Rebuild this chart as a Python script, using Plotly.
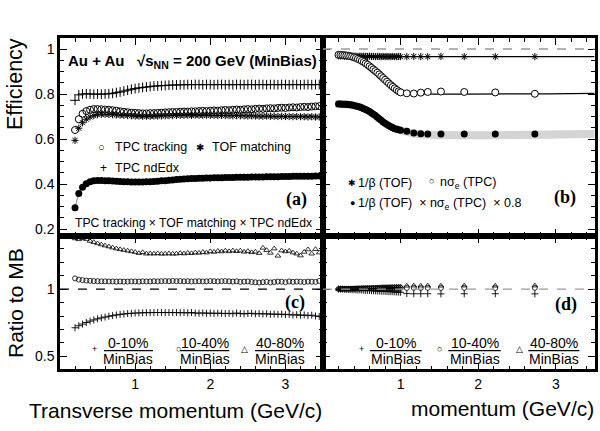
import plotly.graph_objects as go

# ---------------- data ----------------
pt = [0.20, 0.25, 0.30, 0.35, 0.40, 0.45, 0.50, 0.55, 0.60, 0.65,
      0.70, 0.75, 0.80, 0.85, 0.90, 0.95, 1.00, 1.05, 1.10, 1.15,
      1.20, 1.25, 1.30, 1.35, 1.40, 1.45, 1.50, 1.55, 1.60, 1.65,
      1.70, 1.75, 1.80, 1.85, 1.90, 1.95, 2.00, 2.05, 2.10, 2.15,
      2.20, 2.25, 2.30, 2.35, 2.40, 2.45, 2.50, 2.55, 2.60, 2.65,
      2.70, 2.75, 2.80, 2.85, 2.90, 2.95, 3.00, 3.05, 3.10, 3.15,
      3.20, 3.25, 3.30, 3.35, 3.40, 3.45]

eff_ndedx = [0.772, 0.796, 0.800, 0.801, 0.800, 0.799, 0.800, 0.799, 0.800, 0.801,
             0.803, 0.806, 0.809, 0.813, 0.817, 0.821, 0.824, 0.827, 0.829, 0.831,
             0.833, 0.835, 0.836, 0.837, 0.838, 0.839, 0.840, 0.840, 0.841, 0.841,
             0.842, 0.841, 0.842, 0.842, 0.841, 0.842, 0.842, 0.841, 0.842, 0.842,
             0.841, 0.842, 0.841, 0.842, 0.842, 0.841, 0.842, 0.842, 0.841, 0.842,
             0.842, 0.841, 0.842, 0.842, 0.841, 0.842, 0.842, 0.841, 0.842, 0.842,
             0.841, 0.842, 0.842, 0.841, 0.842, 0.842]

eff_tracking = [0.640, 0.688, 0.712, 0.724, 0.730, 0.733, 0.733, 0.732, 0.731, 0.730,
                0.728, 0.726, 0.723, 0.721, 0.719, 0.717, 0.716, 0.715, 0.714, 0.714,
                0.715, 0.715, 0.716, 0.717, 0.718, 0.719, 0.720, 0.720, 0.721, 0.722,
                0.722, 0.723, 0.723, 0.724, 0.725, 0.724, 0.726, 0.727, 0.726, 0.728,
                0.729, 0.728, 0.730, 0.731, 0.730, 0.732, 0.733, 0.732, 0.734, 0.735,
                0.734, 0.736, 0.737, 0.736, 0.738, 0.739, 0.738, 0.740, 0.741, 0.740,
                0.742, 0.743, 0.742, 0.744, 0.745, 0.746]

eff_tof = [0.594, 0.648, 0.672, 0.688, 0.698, 0.704, 0.708, 0.710, 0.710, 0.709,
           0.708, 0.707, 0.706, 0.705, 0.704, 0.703, 0.702, 0.702, 0.701, 0.701,
           0.701, 0.702, 0.702, 0.703, 0.703, 0.704, 0.704, 0.705, 0.705, 0.705,
           0.706, 0.705, 0.706, 0.706, 0.705, 0.706, 0.705, 0.705, 0.704, 0.705,
           0.704, 0.704, 0.703, 0.704, 0.703, 0.703, 0.702, 0.703, 0.702, 0.702,
           0.701, 0.702, 0.701, 0.701, 0.700, 0.701, 0.700, 0.700, 0.699, 0.700,
           0.699, 0.699, 0.698, 0.699, 0.698, 0.698]

eff_comb = [0.295, 0.358, 0.386, 0.401, 0.410, 0.414, 0.416, 0.416, 0.415, 0.414,
            0.413, 0.412, 0.411, 0.410, 0.410, 0.409, 0.409, 0.409, 0.409, 0.410,
            0.410, 0.411, 0.412, 0.414, 0.415, 0.417, 0.418, 0.420, 0.421, 0.422,
            0.423, 0.424, 0.425, 0.426, 0.426, 0.427, 0.427, 0.428, 0.428, 0.428,
            0.429, 0.429, 0.429, 0.430, 0.430, 0.430, 0.430, 0.431, 0.431, 0.431,
            0.431, 0.432, 0.432, 0.432, 0.432, 0.433, 0.433, 0.433, 0.434, 0.434,
            0.434, 0.435, 0.435, 0.435, 0.436, 0.436]
eff_comb_err = 0.009

ratio_0010 = [0.713, 0.728, 0.740, 0.752, 0.762, 0.771, 0.779, 0.786, 0.792, 0.798,
              0.803, 0.808, 0.812, 0.815, 0.818, 0.820, 0.822, 0.823, 0.824, 0.825,
              0.825, 0.826, 0.826, 0.826, 0.825, 0.826, 0.825, 0.826, 0.824, 0.825,
              0.823, 0.826, 0.822, 0.821, 0.823, 0.820, 0.822, 0.819, 0.821, 0.820,
              0.818, 0.820, 0.817, 0.822, 0.818, 0.816, 0.819, 0.820, 0.816, 0.818,
              0.815, 0.817, 0.813, 0.815, 0.812, 0.814, 0.810, 0.812, 0.807, 0.810,
              0.805, 0.808, 0.803, 0.806, 0.800, 0.797]

ratio_1040 = [1.079, 1.070, 1.066, 1.063, 1.061, 1.059, 1.058, 1.057, 1.057, 1.056,
              1.056, 1.055, 1.056, 1.055, 1.055, 1.056, 1.056, 1.055, 1.057, 1.056,
              1.056, 1.058, 1.057, 1.058, 1.059, 1.058, 1.060, 1.058, 1.059, 1.057,
              1.058, 1.056, 1.057, 1.058, 1.056, 1.057, 1.059, 1.058, 1.056, 1.058,
              1.059, 1.057, 1.055, 1.057, 1.053, 1.055, 1.056, 1.052, 1.050, 1.048,
              1.051, 1.053, 1.049, 1.052, 1.055, 1.054, 1.051, 1.056, 1.053, 1.055,
              1.054, 1.052, 1.055, 1.054, 1.053, 1.060]

ratio_4080 = [1.375, 1.368, 1.377, 1.370, 1.356, 1.347, 1.338, 1.330, 1.322, 1.315,
              1.307, 1.300, 1.294, 1.289, 1.284, 1.279, 1.274, 1.266, 1.272, 1.262,
              1.263, 1.262, 1.264, 1.261, 1.262, 1.263, 1.261, 1.262, 1.266, 1.263,
              1.268, 1.265, 1.270, 1.268, 1.274, 1.270, 1.279, 1.275, 1.282, 1.278,
              1.284, 1.279, 1.285, 1.280, 1.284, 1.276, 1.281, 1.272, 1.276, 1.266,
              1.305, 1.288, 1.268, 1.300, 1.246, 1.285, 1.278, 1.283, 1.270, 1.262,
              1.248, 1.275, 1.293, 1.262, 1.295, 1.270]

p_b = [0.200, 0.225, 0.250, 0.275, 0.300, 0.325, 0.350, 0.375, 0.400, 0.425,
       0.450, 0.475, 0.500, 0.525, 0.550, 0.575, 0.600, 0.625, 0.650, 0.675,
       0.700, 0.725, 0.750, 0.775, 0.800, 0.825, 0.850, 0.875, 0.900, 0.925,
       0.950, 0.975, 1.000, 1.08, 1.17, 1.26, 1.35, 1.52, 1.82, 2.22, 2.73]

eff_beta = [0.970, 0.969, 0.970, 0.968, 0.969, 0.968, 0.969, 0.967, 0.968, 0.968,
            0.967, 0.968, 0.967, 0.968, 0.967, 0.967, 0.968, 0.967, 0.967, 0.966,
            0.967, 0.967, 0.966, 0.967, 0.966, 0.967, 0.966, 0.966, 0.967, 0.966,
            0.966, 0.967, 0.966, 0.966, 0.967, 0.966, 0.966, 0.967, 0.966, 0.966, 0.966]

eff_nsig = [0.974, 0.974, 0.973, 0.972, 0.971, 0.970, 0.968, 0.966, 0.963, 0.960,
            0.956, 0.952, 0.947, 0.942, 0.936, 0.930, 0.923, 0.916, 0.909, 0.902,
            0.895, 0.887, 0.879, 0.871, 0.863, 0.855, 0.847, 0.839, 0.832, 0.825,
            0.818, 0.812, 0.807, 0.803, 0.802, 0.806, 0.809, 0.811, 0.809, 0.807, 0.801]

eff_pid = [0.756, 0.756, 0.755, 0.755, 0.754, 0.753, 0.752, 0.751, 0.749, 0.747,
           0.745, 0.742, 0.739, 0.735, 0.731, 0.727, 0.722, 0.716, 0.710, 0.704,
           0.697, 0.690, 0.683, 0.676, 0.670, 0.664, 0.659, 0.654, 0.650, 0.646,
           0.643, 0.641, 0.639, 0.634, 0.627, 0.623, 0.622, 0.622, 0.622, 0.622, 0.622]

beta_fit_p = [0.2, 3.5]
beta_fit = [0.966, 0.966]
nsig_fit_p = [0.2, 0.3, 0.4, 0.5, 0.6, 0.7, 0.8, 0.9, 1.0, 1.1, 3.5]
nsig_fit = [0.973, 0.971, 0.963, 0.947, 0.923, 0.895, 0.864, 0.833, 0.808, 0.803, 0.803]
band_p = [0.16, 0.3, 0.4, 0.5, 0.6, 0.7, 0.8, 0.9, 1.0, 1.1, 1.2, 3.5]
band_c = [0.757, 0.754, 0.749, 0.739, 0.722, 0.697, 0.670, 0.650, 0.639, 0.630, 0.622, 0.622]
band_err = 0.018

ratio_d_0010 = [1.000, 0.999, 0.999, 0.998, 0.997, 0.997, 0.996, 0.995, 0.995, 0.994,
                0.993, 0.993, 0.992, 0.991, 0.990, 0.990, 0.989, 0.988, 0.987, 0.987,
                0.986, 0.985, 0.984, 0.984, 0.983, 0.982, 0.981, 0.980, 0.980, 0.979,
                0.978, 0.977, 0.976, 0.966, 0.965, 0.965, 0.965, 0.964, 0.965, 0.965, 0.964]
ratio_d_1040 = [1.000, 1.000, 1.001, 1.001, 1.001, 1.002, 1.002, 1.002, 1.002, 1.003,
                1.003, 1.003, 1.004, 1.004, 1.004, 1.004, 1.005, 1.005, 1.005, 1.005,
                1.006, 1.006, 1.006, 1.006, 1.007, 1.007, 1.007, 1.007, 1.007, 1.008,
                1.008, 1.008, 1.008, 1.008, 1.009, 1.008, 1.009, 1.008, 1.009, 1.008, 1.009]
ratio_d_4080 = [1.000, 1.001, 1.001, 1.002, 1.002, 1.003, 1.003, 1.004, 1.005, 1.005,
                1.006, 1.006, 1.007, 1.008, 1.008, 1.009, 1.009, 1.010, 1.011, 1.011,
                1.012, 1.012, 1.013, 1.014, 1.014, 1.015, 1.015, 1.016, 1.016, 1.017,
                1.017, 1.018, 1.018, 1.024, 1.025, 1.024, 1.025, 1.024, 1.025, 1.024, 1.025]

x_ticks = [1, 2, 3]
x_ticklabels = ["1", "2", "3"]
y_top_ticks = [0.2, 0.4, 0.6, 0.8, 1.0]
y_top_ticklabels = ["0.2", "0.4", "0.6", "0.8", "1"]
y_bot_ticks = [0.5, 1.0]
y_bot_ticklabels = ["0.5", "1"]

# ---------------- layout helpers ----------------
W, H = 600, 431
def px(x): return x / W
def py(y): return 1 - y / H

FONT = "Liberation Sans"
SERIF = "Liberation Serif"
BLACK = "black"

fig = go.Figure()

def mk(symbol, size, filled=False, lw=1.0):
    if filled:
        return dict(symbol=symbol, size=size, color=BLACK, line=dict(width=0))
    return dict(symbol=symbol, size=size, color=BLACK, line=dict(width=lw, color=BLACK))

# ---- panel (a)
lo = [v - eff_comb_err for v in eff_comb]
hi = [v + eff_comb_err for v in eff_comb]
fig.add_trace(go.Scatter(x=pt, y=lo, mode="lines", line=dict(width=0), showlegend=False, xaxis="x", yaxis="y"))
fig.add_trace(go.Scatter(x=pt, y=hi, mode="lines", line=dict(width=0), fill="tonexty",
                         fillcolor="#d4d4d4", showlegend=False, xaxis="x", yaxis="y"))
fig.add_trace(go.Scatter(x=pt, y=eff_comb, mode="lines+markers", line=dict(color="#999999", width=1),
                         marker=mk("circle", 7, filled=True), showlegend=False, xaxis="x", yaxis="y"))
fig.add_trace(go.Scatter(x=pt, y=eff_tof, mode="markers", marker=mk("asterisk-open", 6, lw=1),
                         showlegend=False, xaxis="x", yaxis="y"))
fig.add_trace(go.Scatter(x=pt, y=eff_tracking, mode="markers", marker=mk("circle-open", 7, lw=1),
                         showlegend=False, xaxis="x", yaxis="y"))
fig.add_trace(go.Scatter(x=pt, y=eff_ndedx, mode="markers", marker=mk("cross-thin-open", 7, lw=1),
                         showlegend=False, xaxis="x", yaxis="y"))

# ---- panel (b)
blo = [v - band_err for v in band_c]
bhi = [v + band_err for v in band_c]
fig.add_trace(go.Scatter(x=band_p, y=blo, mode="lines", line=dict(width=0, shape="spline"), showlegend=False,
                         xaxis="x2", yaxis="y2"))
fig.add_trace(go.Scatter(x=band_p, y=bhi, mode="lines", line=dict(width=0, shape="spline"), fill="tonexty",
                         fillcolor="#d4d4d4", showlegend=False, xaxis="x2", yaxis="y2"))
fig.add_trace(go.Scatter(x=beta_fit_p, y=beta_fit, mode="lines", line=dict(color=BLACK, width=1.3),
                         showlegend=False, xaxis="x2", yaxis="y2"))
fig.add_trace(go.Scatter(x=nsig_fit_p, y=nsig_fit, mode="lines", line=dict(color=BLACK, width=1.3, shape="spline"),
                         showlegend=False, xaxis="x2", yaxis="y2"))
fig.add_trace(go.Scatter(x=p_b, y=eff_beta, mode="markers", marker=mk("asterisk-open", 6, lw=1),
                         showlegend=False, xaxis="x2", yaxis="y2"))
fig.add_trace(go.Scatter(x=p_b, y=eff_nsig, mode="markers",
                         marker=dict(symbol="circle", size=7, color="white", line=dict(width=1, color=BLACK)),
                         showlegend=False, xaxis="x2", yaxis="y2"))
fig.add_trace(go.Scatter(x=p_b, y=eff_pid, mode="markers", marker=mk("circle", 7, filled=True),
                         showlegend=False, xaxis="x2", yaxis="y2"))

# ---- panel (c)
fig.add_trace(go.Scatter(x=pt, y=ratio_4080, mode="markers", marker=mk("triangle-up-open", 5, lw=0.8),
                         showlegend=False, xaxis="x3", yaxis="y3"))
fig.add_trace(go.Scatter(x=pt, y=ratio_1040, mode="markers", marker=mk("circle-open", 5, lw=0.8),
                         showlegend=False, xaxis="x3", yaxis="y3"))
fig.add_trace(go.Scatter(x=pt, y=ratio_0010, mode="markers", marker=mk("cross-thin-open", 5, lw=0.9),
                         showlegend=False, xaxis="x3", yaxis="y3"))

# ---- panel (d)
fig.add_trace(go.Scatter(x=p_b, y=ratio_d_4080, mode="markers", marker=mk("triangle-up-open", 5, lw=0.8),
                         showlegend=False, xaxis="x4", yaxis="y4"))
fig.add_trace(go.Scatter(x=p_b, y=ratio_d_1040, mode="markers", marker=mk("circle-open", 5, lw=0.8),
                         showlegend=False, xaxis="x4", yaxis="y4"))
fig.add_trace(go.Scatter(x=p_b, y=ratio_d_0010, mode="markers", marker=mk("cross-thin-open", 5, lw=0.9),
                         showlegend=False, xaxis="x4", yaxis="y4"))

# ---------------- axes ----------------
XL = [px(60), px(323)]
XR = [px(323), px(594.6)]
YT = [py(235.75), py(37.75)]
YB = [py(369.3), py(235.75)]

def xax(domain, anchor, labels):
    return dict(domain=domain, anchor=anchor, range=[0, 3.5],
                tickmode="array", tickvals=x_ticks, ticktext=x_ticklabels,
                showticklabels=labels, ticks="inside", ticklen=7, tickwidth=1.3, tickcolor=BLACK,
                minor=dict(dtick=0.2, tick0=0, ticks="inside", ticklen=4, tickwidth=1, tickcolor=BLACK),
                showline=True, linewidth=2.5, linecolor=BLACK, mirror="ticks",
                showgrid=False, zeroline=False, automargin=False,
                tickfont=dict(family=FONT, size=14, color=BLACK))

def yax(domain, anchor, rng, tv, tt, mdtick, labels):
    return dict(domain=domain, anchor=anchor, range=rng,
                tickmode="array", tickvals=tv, ticktext=tt,
                showticklabels=labels, ticks="inside", ticklen=7, tickwidth=1.3, tickcolor=BLACK,
                minor=dict(dtick=mdtick, tick0=0, ticks="inside", ticklen=4, tickwidth=1, tickcolor=BLACK),
                showline=True, linewidth=2.5, linecolor=BLACK, mirror="ticks",
                showgrid=False, zeroline=False, automargin=False,
                tickfont=dict(family=FONT, size=14, color=BLACK))

fig.update_layout(
    width=W, height=H,
    margin=dict(l=0, r=0, t=0, b=0, pad=0),
    paper_bgcolor="white", plot_bgcolor="white",
    showlegend=False,
    xaxis=xax(XL, "y", False),
    yaxis=yax(YT, "x", [0.17, 1.05], y_top_ticks, y_top_ticklabels, 0.05, True),
    xaxis2=xax(XR, "y2", False),
    yaxis2=yax(YT, "x2", [0.17, 1.05], y_top_ticks, y_top_ticklabels, 0.05, False),
    xaxis3=xax(XL, "y3", True),
    yaxis3=yax(YB, "x3", [0.405, 1.395], y_bot_ticks, y_bot_ticklabels, 0.1, True),
    xaxis4=xax(XR, "y4", True),
    yaxis4=yax(YB, "x4", [0.405, 1.395], y_bot_ticks, y_bot_ticklabels, 0.1, False),
)

# ---------------- reference lines ----------------
fig.add_shape(type="line", xref="x2 domain", yref="y2", x0=0, x1=1, y0=1, y1=1,
              line=dict(color="#999999", width=1.3, dash="dash"))
fig.add_shape(type="line", xref="x3 domain", yref="y3", x0=0, x1=1, y0=1, y1=1,
              line=dict(color=BLACK, width=1.3, dash="dash"))
fig.add_shape(type="line", xref="x4 domain", yref="y4", x0=0, x1=1, y0=1, y1=1,
              line=dict(color="#999999", width=1.3, dash="dash"))

# ---------------- text ----------------
def txt(text, x, y, size=12, xanchor="center", family=FONT, angle=0):
    fig.add_annotation(text=text, x=px(x), y=py(y), xref="paper", yref="paper", showarrow=False,
                       font=dict(size=size, family=family, color=BLACK), xanchor=xanchor,
                       yanchor="middle", textangle=angle, borderpad=0)

txt("<b>Au + Au   √s<sub>NN</sub> = 200 GeV (MinBias)</b>", 67, 62, size=15, xanchor="left")
txt("○", 101.5, 146.5, size=11)
txt("TPC tracking", 114, 147, size=12.5, xanchor="left")
txt("✱", 200, 147, size=10)
txt("TOF matching", 211, 147, size=12.5, xanchor="left")
txt("+", 103, 168, size=12)
txt("TPC ndEdx", 114, 168, size=12.5, xanchor="left")
txt("<b>(a)</b>", 296, 199, size=18, family=SERIF)
txt("TPC tracking × TOF matching × TPC ndEdx", 194, 223, size=12.2)

txt("✱", 352.3, 183, size=9)
txt("1/β (TOF)", 357, 183, size=12.5, xanchor="left")
txt("○", 431.5, 181, size=9)
txt("nσ<sub>e</sub> (TPC)", 439, 183, size=12.5, xanchor="left")
txt("●", 352.3, 203, size=9)
txt("1/β (TOF)  × nσ<sub>e</sub> (TPC)  × 0.8", 357, 204, size=12.5, xanchor="left")
txt("<b>(b)</b>", 565, 198, size=18, family=SERIF)

txt("<b>(c)</b>", 295, 302, size=18, family=SERIF)
txt("<b>(d)</b>", 566, 304, size=18, family=SERIF)

frac = [
    ("+", 94, 128, 104, 153, "0-10%"),
    ("○", 178, 204.5, 180, 229.3, "10-40%"),
    ("△", 244, 279.5, 255, 304, "40-80%"),
    ("+", 361.7, 396, 370, 421.7, "0-10%"),
    ("○", 440, 474.5, 448.3, 500.7, "10-40%"),
    ("△", 519, 553.5, 528.3, 579.3, "40-80%"),
]
for sym, sx, cx, bx0, bx1, lab in frac:
    txt(sym, sx, 349, size=9)
    txt(lab, cx, 343.3, size=14)
    txt("MinBias", cx, 358.5, size=14)
    fig.add_shape(type="line", xref="paper", yref="paper", x0=px(bx0), x1=px(bx1), y0=py(350.7), y1=py(350.7),
                  line=dict(color=BLACK, width=1.2))

txt("Efficiency", 15, 84, size=21.5, angle=-90)
txt("Ratio to MB", 15, 303, size=21, angle=-90)
txt("Transverse momentum (GeV/c)", 323, 410, size=21, xanchor="right")
txt("momentum (GeV/c)", 595, 408, size=21, xanchor="right")

fig.write_html("out.html", config={"displayModeBar": False},
               post_script="document.body.style.margin='0px';")
